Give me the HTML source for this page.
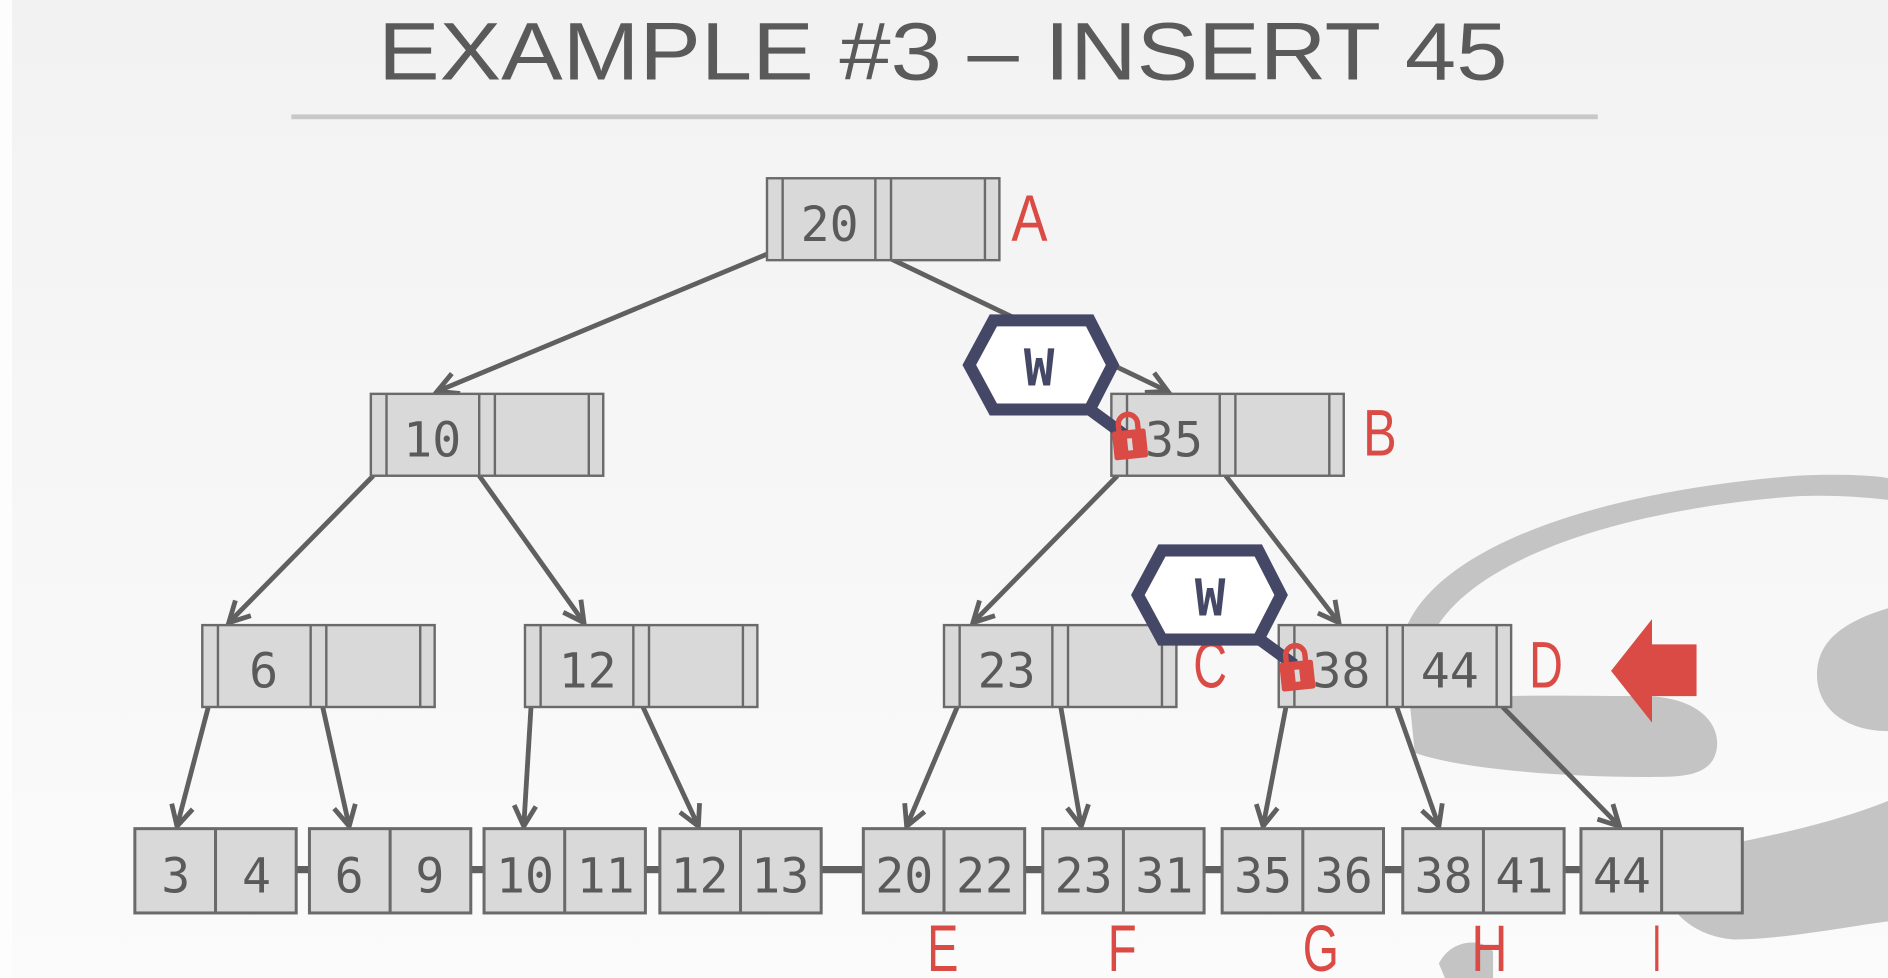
<!DOCTYPE html>
<html><head><meta charset="utf-8"><style>
html,body{margin:0;padding:0;width:1888px;height:978px;overflow:hidden;background:#f6f6f6}
svg{display:block}
.k{font-family:"DejaVu Sans Mono","Liberation Mono",monospace;font-size:40px;fill:#5a5a5a;text-anchor:middle}
.r{font-family:"Liberation Sans",sans-serif;font-size:55px;fill:#db4b45;text-anchor:middle}
</style></head><body>
<svg width="1888" height="978" viewBox="0 0 1568 812" preserveAspectRatio="none">
<defs>
<linearGradient id="bg" x1="0" y1="0" x2="0" y2="1"><stop offset="0" stop-color="#f2f2f2"/><stop offset="1" stop-color="#fbfbfb"/></linearGradient>
<marker id="ar" viewBox="0 0 20 20" refX="18" refY="10" markerWidth="20" markerHeight="20" markerUnits="userSpaceOnUse" orient="auto" overflow="visible">
<path d="M1,1 L18,10 L1,19" fill="none" stroke="#606060" stroke-width="4" stroke-linejoin="miter"/></marker>
<g id="n"><rect x="0" y="0" width="193" height="68" fill="#d9d9d9" stroke="#6a6a6a" stroke-width="2"/><g stroke="#6a6a6a" stroke-width="2"><line x1="13" y1="0" x2="13" y2="68"/><line x1="90" y1="0" x2="90" y2="68"/><line x1="103" y1="0" x2="103" y2="68"/><line x1="181" y1="0" x2="181" y2="68"/></g></g>
<g id="l"><rect x="0" y="0" width="134" height="70" fill="#d9d9d9" stroke="#6a6a6a" stroke-width="2.5"/><line x1="67" y1="0" x2="67" y2="70" stroke="#6a6a6a" stroke-width="2.5"/></g>
<g id="lock"><path d="M-8,-6 V-12 A8,8 0 0 1 8,-12 V-6" fill="none" stroke="#db4b45" stroke-width="4.5"/><rect x="-14" y="-7" width="28" height="24" rx="2" fill="#db4b45"/><rect x="-2" y="0" width="4" height="10" fill="#d9d9d9"/></g>
</defs>
<rect x="0" y="0" width="1568" height="812" fill="url(#bg)"/>
<rect x="0" y="0" width="10" height="812" fill="#fdfdfd"/>
<g fill="#c4c4c4">
<path d="M1163,560 C1150,470 1300,410 1492,395 C1530,393 1560,395 1568,397 L1568,415 C1540,412 1520,411 1492,412 C1320,425 1180,480 1182,560 Z"/>
<path d="M1171,585 C1220,575 1300,578 1370,578 C1410,580 1428,600 1426,620 C1424,638 1410,645 1380,645 C1300,646 1210,638 1175,625 Z"/>
<path d="M1509,560 C1509,530 1535,515 1568,505 L1568,607 C1535,607 1509,590 1509,560 Z"/>
<path d="M1440,700 C1490,690 1530,680 1568,665 L1568,765 C1530,770 1480,780 1440,780 C1410,778 1390,760 1385,745 Z"/>
<path d="M1190,700 C1215,740 1260,762 1290,745 C1305,730 1300,710 1290,700 Z"/>
<path d="M1195,800 C1205,780 1230,778 1240,790 L1240,812 L1200,812 Z"/>
</g>
<text x="783" y="66" text-anchor="middle" textLength="938" lengthAdjust="spacingAndGlyphs" font-family="Liberation Sans,sans-serif" font-size="68" fill="#5a5a5a">EXAMPLE #3 – INSERT 45</text>
<rect x="242" y="95" width="1085" height="4" fill="#c8c8c8"/>
<g stroke="#606060" stroke-width="4" fill="none" marker-end="url(#ar)">
<line x1="637" y1="211" x2="363" y2="325"/>
<line x1="740" y1="215" x2="970" y2="325"/>
<line x1="310" y1="395" x2="190" y2="517"/>
<line x1="398" y1="395" x2="485" y2="517"/>
<line x1="928" y1="395" x2="808" y2="517"/>
<line x1="1018" y1="395" x2="1112" y2="517"/>
<line x1="173" y1="587" x2="147" y2="686"/>
<line x1="268" y1="587" x2="290" y2="686"/>
<line x1="441" y1="587" x2="435" y2="686"/>
<line x1="534" y1="587" x2="580" y2="686"/>
<line x1="795" y1="587" x2="753" y2="686"/>
<line x1="881" y1="587" x2="898" y2="686"/>
<line x1="1068" y1="587" x2="1049" y2="686"/>
<line x1="1160" y1="587" x2="1195" y2="686"/>
<line x1="1248" y1="587" x2="1345" y2="686"/>
</g>
<use href="#n" x="637" y="148"/>
<use href="#n" x="923" y="327"/>
<use href="#n" x="308" y="327"/>
<use href="#n" x="168" y="519"/>
<use href="#n" x="436" y="519"/>
<use href="#n" x="784" y="519"/>
<use href="#n" x="1062" y="519"/>
<text class="k" x="689" y="200">20</text>
<text class="k" x="975" y="379">35</text>
<text class="k" x="359" y="379">10</text>
<text class="k" x="219" y="571">6</text>
<text class="k" x="488" y="571">12</text>
<text class="k" x="836" y="571">23</text>
<text class="k" x="1114" y="571">38</text>
<text class="k" x="1204" y="571">44</text>
<g stroke="#606060" stroke-width="6">
<line x1="246" y1="722" x2="257" y2="722"/><line x1="391" y1="722" x2="402" y2="722"/><line x1="536" y1="722" x2="548" y2="722"/><line x1="682" y1="722" x2="717" y2="722"/><line x1="851" y1="722" x2="866" y2="722"/><line x1="1000" y1="722" x2="1015" y2="722"/><line x1="1149" y1="722" x2="1165" y2="722"/><line x1="1299" y1="722" x2="1313" y2="722"/>
</g>
<use href="#l" x="112" y="688"/><use href="#l" x="257" y="688"/><use href="#l" x="402" y="688"/><use href="#l" x="548" y="688"/><use href="#l" x="717" y="688"/><use href="#l" x="866" y="688"/><use href="#l" x="1015" y="688"/><use href="#l" x="1165" y="688"/><use href="#l" x="1313" y="688"/>
<text class="k" x="146" y="741">3</text><text class="k" x="213" y="741">4</text>
<text class="k" x="290" y="741">6</text><text class="k" x="357" y="741">9</text>
<text class="k" x="436" y="741">10</text><text class="k" x="503" y="741">11</text>
<text class="k" x="581" y="741">12</text><text class="k" x="648" y="741">13</text>
<text class="k" x="751" y="741">20</text><text class="k" x="818" y="741">22</text>
<text class="k" x="900" y="741">23</text><text class="k" x="967" y="741">31</text>
<text class="k" x="1049" y="741">35</text><text class="k" x="1116" y="741">36</text>
<text class="k" x="1199" y="741">38</text><text class="k" x="1266" y="741">41</text>
<text class="k" x="1347" y="741">44</text>
<text class="r" x="855" y="200" textLength="30" lengthAdjust="spacingAndGlyphs">A</text>
<text class="r" x="1146" y="378" textLength="28" lengthAdjust="spacingAndGlyphs">B</text>
<text class="r" x="1005" y="571" textLength="28" lengthAdjust="spacingAndGlyphs">C</text>
<text class="r" x="1284" y="571" textLength="28" lengthAdjust="spacingAndGlyphs">D</text>
<text class="r" x="783" y="806" textLength="26" lengthAdjust="spacingAndGlyphs">E</text>
<text class="r" x="932" y="806" textLength="24" lengthAdjust="spacingAndGlyphs">F</text>
<text class="r" x="1097" y="806" textLength="30" lengthAdjust="spacingAndGlyphs">G</text>
<text class="r" x="1237" y="806" textLength="30" lengthAdjust="spacingAndGlyphs">H</text>
<text class="r" x="1376" y="806" textLength="8" lengthAdjust="spacingAndGlyphs">I</text>
<path d="M1338,557 L1372,514 L1372,535 L1409,535 L1409,578 L1372,578 L1372,600 Z" fill="#db4b45"/>
<g stroke="#454766" stroke-width="10" stroke-linejoin="miter">
<line x1="905" y1="340" x2="935" y2="362"/>
<line x1="1045" y1="530" x2="1075" y2="552"/>
<polygon points="825,266 905,266 924,303 905,340 825,340 805,303" fill="#ffffff"/>
<polygon points="965,457 1045,457 1064,494 1045,531 965,531 945,494" fill="#ffffff"/>
</g>
<text x="863" y="320" text-anchor="middle" font-family="DejaVu Sans Mono,monospace" font-weight="bold" font-size="42" fill="#454766">W</text>
<text x="1005" y="511" text-anchor="middle" font-family="DejaVu Sans Mono,monospace" font-weight="bold" font-size="42" fill="#454766">W</text>
<use href="#lock" transform="translate(938,364) rotate(-6)"/>
<use href="#lock" transform="translate(1077,556) rotate(-6)"/>
</svg>
</body></html>
